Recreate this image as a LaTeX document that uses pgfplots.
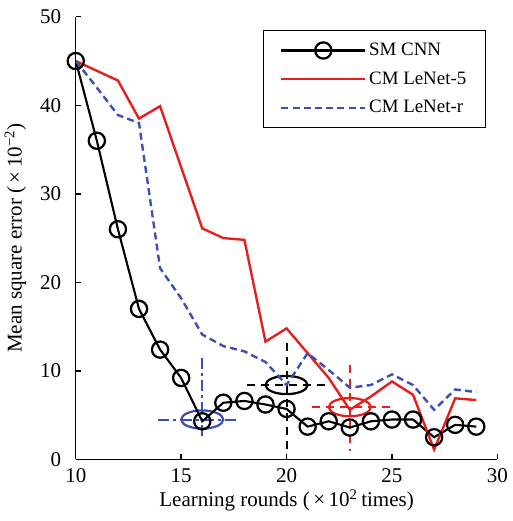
\documentclass[border=0pt]{standalone}
\usepackage{pgfplots}
\pgfplotsset{compat=1.18}
\usepackage{fontspec}
\setmainfont{Liberation Serif}
\definecolor{cnnred}{RGB}{230,30,30}
\definecolor{cnnblue}{RGB}{60,80,180}
\begin{document}
\begin{tikzpicture}
\begin{axis}[
  scale only axis, width=301pt, height=316pt,
  xmin=10, xmax=30, ymin=0, ymax=50,
  axis lines*=left,
  axis line style={line width=1pt},
  xtick={10,15,...,30}, ytick={0,10,...,50},
  tick align=inside, major tick length=4pt,
  tick style={line width=1pt, black},
  font=\fontsize{15}{18}\selectfont,
  /pgf/number format/assume math mode=true,
  xticklabel style={yshift=-3pt},
  yticklabel style={xshift=-7pt},
  xlabel={Learning rounds (\,×\,10\textsuperscript{2}\,times)},
  ylabel={Mean square error (\,×\,10\textsuperscript{−2})},
  xlabel style={yshift=2pt},
  ylabel style={yshift=3pt},
  legend style={at={(0.974,0.97)}, anchor=north east, draw=black, line width=0.7pt,
    font=\fontsize{13.5}{16}\selectfont, row sep=6pt, inner xsep=12pt, inner ysep=7pt,
    cells={anchor=west}},
  legend image code/.code={\draw[mark repeat=2,mark phase=2,#1] plot coordinates {(0cm,0cm) (1.05cm,0cm) (2.1cm,0cm)};},
]
% crosshairs
\addplot[forget plot, cnnblue, line width=1.4pt, dash pattern=on 8pt off 3pt on 2pt off 3pt] coordinates {(13.9,4.5) (17.8,4.5)};
\addplot[forget plot, cnnblue, line width=1.4pt, dash pattern=on 8pt off 3pt on 2pt off 3pt] coordinates {(16,11.5) (16,2.6)};
\addplot[forget plot, black, line width=1.4pt, dash pattern=on 6pt off 4pt] coordinates {(18.1,8.4) (22,8.4)};
\addplot[forget plot, black, line width=1.4pt, dash pattern=on 6pt off 4pt] coordinates {(20,13.2) (20,1.1)};
\addplot[forget plot, cnnred, line width=1.4pt, dash pattern=on 6pt off 4pt] coordinates {(21.2,5.9) (25,5.9)};
\addplot[forget plot, cnnred, line width=1.4pt, dash pattern=on 6pt off 4pt] coordinates {(23,10.7) (23,0.9)};
\draw[cnnblue, line width=1.6pt] (axis cs:16,4.5) ellipse [x radius=15pt, y radius=6.5pt];
\draw[black, line width=1.6pt] (axis cs:20,8.4) ellipse [x radius=15pt, y radius=6.5pt];
\draw[cnnred, line width=1.6pt] (axis cs:23,5.9) ellipse [x radius=15pt, y radius=6.5pt];
% series
\addplot[black, line width=1.5pt, mark=o, mark size=5.8pt, mark options={line width=1.6pt}] coordinates {
(10,45) (11,36) (12,26) (13,17) (14,12.4) (15,9.2) (16,4.3) (17,6.4) (18,6.6) (19,6.2)
(20,5.7) (21,3.7) (22,4.3) (23,3.6) (24,4.3) (25,4.5) (26,4.5) (27,2.5) (28,3.9) (29,3.7)};
\addlegendentry{SM CNN}
\addplot[cnnred, line width=1.7pt, mark=none] coordinates {
(10,45) (11,43.9) (12,42.8) (13,38.5) (14,39.9) (15,33) (16,26.1) (17,25) (18,24.8) (19,13.3)
(20,14.8) (21,12.0) (22,9.2) (23,5.6) (24,7.1) (25,8.8) (26,7.3) (27,1.1) (28,6.9) (29,6.7)};
\addlegendentry{CM LeNet-5}
\addplot[cnnblue, line width=1.7pt, dash pattern=on 5pt off 3pt, mark=none] coordinates {
(10,45) (11,42) (12,38.9) (13,38) (14,21.6) (15,18.2) (16,14.1) (17,12.8) (18,12.2) (19,11)
(20,8.4) (21,12.0) (22,10.1) (23,8.1) (24,8.4) (25,9.6) (26,8.4) (27,5.6) (28,7.9) (29,7.6)};
\addlegendentry{CM LeNet-r}
\path (rel axis cs:0,1) ++(-54pt,12pt) coordinate (bbtl);
\path (rel axis cs:1,0) ++(4pt,-44pt) coordinate (bbbr);
\end{axis}
\path (bbtl) (bbbr);
\end{tikzpicture}
\end{document}
